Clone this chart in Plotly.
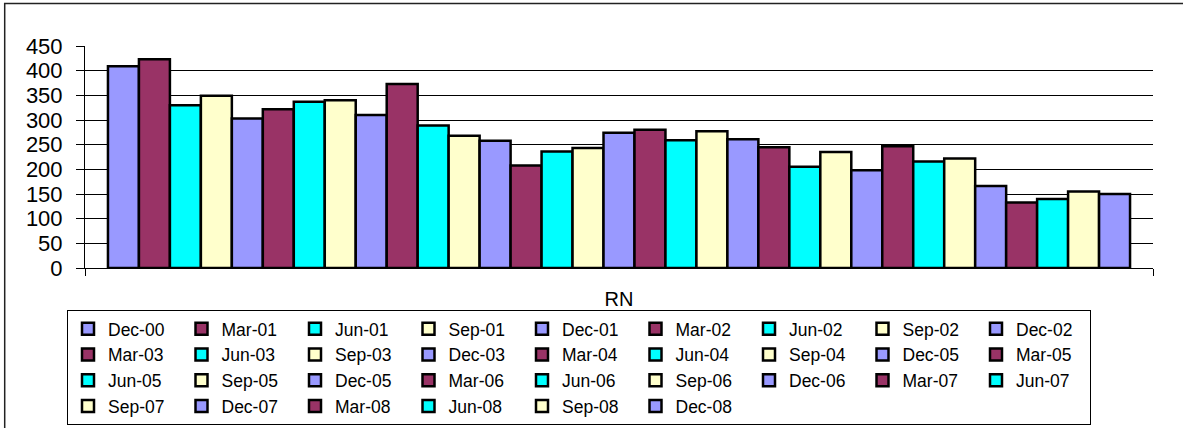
import plotly.graph_objects as go

category = ["RN"]
periods = ["Dec-00", "Mar-01", "Jun-01", "Sep-01", "Dec-01", "Mar-02", "Jun-02", "Sep-02", "Dec-02",
           "Mar-03", "Jun-03", "Sep-03", "Dec-03", "Mar-04", "Jun-04", "Sep-04", "Dec-05", "Mar-05",
           "Jun-05", "Sep-05", "Dec-05", "Mar-06", "Jun-06", "Sep-06", "Dec-06", "Mar-07", "Jun-07",
           "Sep-07", "Dec-07", "Mar-08", "Jun-08", "Sep-08", "Dec-08"]
values = [409, 423, 330, 349, 303, 322, 337, 340, 310,
          373, 289, 268, 258, 208, 236, 243, 274, 280,
          259, 277, 261, 245, 205, 235, 198, 247, 216,
          222, 166, 133, 140, 155, 150]
palette = ["#9999FF", "#993366", "#00FFFF", "#FFFFCC"]
y_ticks = list(range(0, 451, 50))

W, H = 1183, 428
L, R, T, B = 85.3, 29.7, 46, 160.3
pw, ph = W - L - R, H - T - B

def px_x(p):
    return (p - L) / pw

def px_y(p):
    return (H - B - p) / ph

fig = go.Figure()
for i, (name, v) in enumerate(zip(periods, values)):
    fig.add_trace(go.Bar(
        x=category, y=[v], name=name,
        marker=dict(color=palette[i % 4], line=dict(color="#000000", width=2.5)),
    ))

font = "Liberation Sans, Arial, sans-serif"
fig.update_layout(
    width=W, height=H,
    margin=dict(l=L, r=R, t=T, b=B, autoexpand=False),
    paper_bgcolor="white", plot_bgcolor="white",
    barmode="group", bargap=0.043, bargroupgap=0,
    font=dict(family=font, color="#000000"),
    showlegend=True,
    legend=dict(
        orientation="h", xanchor="right", x=px_x(1091.3), yanchor="top", y=px_y(309.5),
        entrywidth=68.5, entrywidthmode="pixels",
        font=dict(size=17.5, family=font, color="#000000"),
        bordercolor="#000000", borderwidth=1, bgcolor="white",
        traceorder="normal",
    ),
    xaxis=dict(
        type="category", tickson="boundaries", ticks="outside", ticklen=7, tickcolor="#000000",
        showline=True, linecolor="#000000", linewidth=1, showgrid=False,
        tickfont=dict(size=20, family=font), ticklabelstandoff=13, fixedrange=True,
    ),
    yaxis=dict(
        range=[0, 450], tickvals=y_ticks, ticks="outside", ticklen=8, tickcolor="#000000",
        showline=True, linecolor="#000000", linewidth=1,
        showgrid=True, gridcolor="#000000", gridwidth=1, zeroline=False,
        tickfont=dict(size=22, family=font), ticklabelstandoff=9,
    ),
    shapes=[dict(type="rect", xref="paper", yref="paper",
                 x0=px_x(5), x1=px_x(1195), y0=px_y(440), y1=px_y(3.5),
                 line=dict(color="#222222", width=1.5), fillcolor="rgba(0,0,0,0)", layer="below")],
)

fig.write_html("out.html", config={"displayModeBar": False},
               post_script="document.body.style.margin='0';document.body.style.padding='0';")
